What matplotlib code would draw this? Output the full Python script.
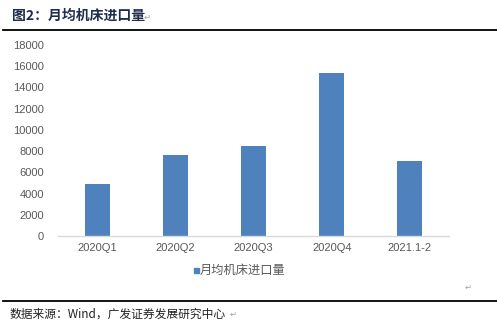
import matplotlib.pyplot as plt
from matplotlib.lines import Line2D
from matplotlib.patches import Rectangle

plt.rcParams['font.family'] = ['Liberation Sans', 'Noto Sans CJK SC', 'DejaVu Sans']

# data
categories = ['2020Q1', '2020Q2', '2020Q3', '2020Q4', '2021.1-2']
values = [4900, 7650, 8480, 15380, 7070]
series_name = '月均机床进口量'
yticks = [0, 2000, 4000, 6000, 8000, 10000, 12000, 14000, 16000, 18000]

bar_color = '#4f81bd'
text_grey = '#595959'
cjk = ['Noto Sans CJK SC', 'DejaVu Sans']

fig = plt.figure(figsize=(4.97, 3.29), dpi=100)
ax = fig.add_axes([0.1167, 0.2827, 0.7867, 0.5805])

x = range(len(categories))
ax.bar(x, values, width=0.32, color=bar_color, zorder=2)
ax.set_xlim(-0.5, len(categories) - 0.5)
ax.set_ylim(0, 18000)
ax.set_yticks(yticks)
ax.set_yticklabels([str(v) for v in yticks])
ax.set_xticks(list(x))
ax.set_xticklabels(categories)
ax.tick_params(axis='both', length=0, labelsize=8, colors=text_grey)
ax.tick_params(axis='y', pad=10)
ax.tick_params(axis='x', pad=5)
for s in ['top', 'right', 'left']:
    ax.spines[s].set_visible(False)
ax.spines['bottom'].set_color('#d9d9d9')
ax.spines['bottom'].set_linewidth(1)

# legend
fig.patches.append(Rectangle((194 / 497, 1 - 273 / 329), 5 / 497, 5 / 329,
                             transform=fig.transFigure, color=bar_color))
fig.text(200 / 497, 1 - 270 / 329, series_name, family=cjk, fontsize=8.8,
         color=text_grey, va='center', ha='left')

# title, rules and source
fig.text(12 / 497, 1 - 16 / 329, '图2：月均机床进口量', family=cjk, fontsize=10,
         fontweight='bold', color='#1f2d4d', va='center', ha='left')
fig.text(144 / 497, 1 - 17 / 329, '↵', family=['DejaVu Sans'], fontsize=6,
         color='#a0a0a0', va='center', ha='left')
fig.add_artist(Line2D([3 / 497, 1], [1 - 30 / 329] * 2, color='black', lw=1.3,
                      transform=fig.transFigure))
fig.add_artist(Line2D([3 / 497, 1], [1 - 301 / 329] * 2, color='black', lw=1.3,
                      transform=fig.transFigure))
fig.text(465 / 497, 1 - 287 / 329, '↵', family=['DejaVu Sans'], fontsize=6,
         color='#a0a0a0', va='center', ha='left')
fig.text(10 / 497, 1 - 314 / 329, '数据来源：Wind，广发证券发展研究中心', family=cjk,
         fontsize=8.5, color='#222222', va='center', ha='left')
fig.text(230 / 497, 1 - 314 / 329, '↵', family=['DejaVu Sans'], fontsize=6,
         color='#a0a0a0', va='center', ha='left')

fig.savefig('out.png', dpi=100)
